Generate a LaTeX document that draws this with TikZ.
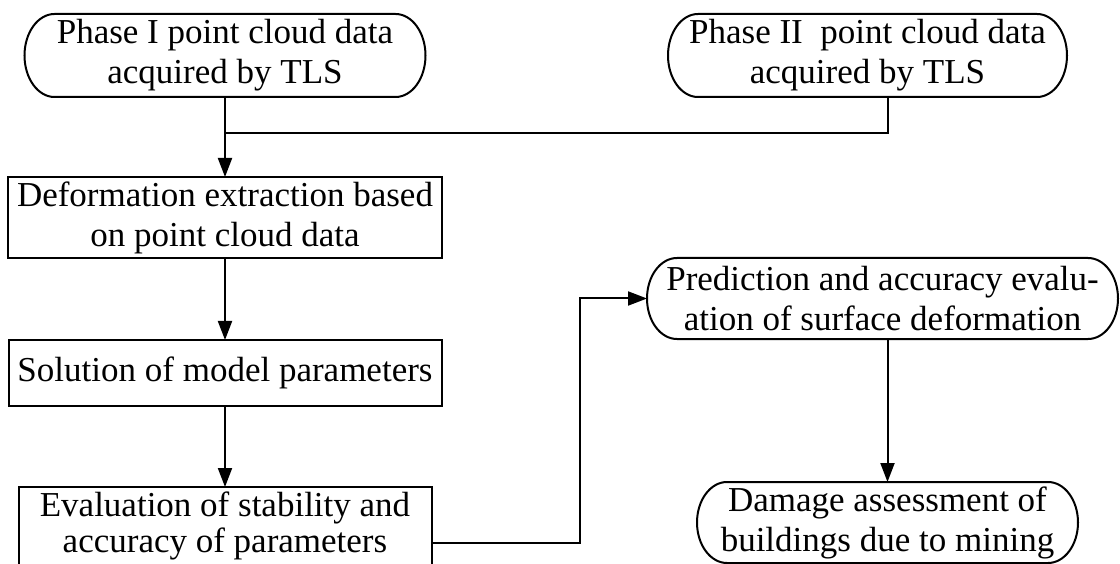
\documentclass[tikz,border=0pt]{standalone}
\usepackage{fontspec}
\setmainfont{Liberation Serif}
\usetikzlibrary{arrows.meta,calc}
\newcommand\termframe[1]{%
  \draw[frameline] let \p1=(#1.north west), \p2=(#1.south east), \n1={(\y1-\y2)/2} in
    (\x1+30pt,\y1) -- (\x2-30pt,\y1)
    arc[start angle=90, end angle=-90, x radius=30pt, y radius=\n1]
    -- (\x1+30pt,\y2)
    arc[start angle=270, end angle=90, x radius=30pt, y radius=\n1] -- cycle;}
\begin{document}
\begin{tikzpicture}[x=1pt,y=1pt,
  every node/.style={font=\fontsize{35}{40}\selectfont, align=center, inner sep=0pt, outer sep=0pt},
  frameline/.style={line width=2pt, black},
  boxnode/.style={draw, line width=2pt, rectangle},
  termnode/.style={rectangle, draw=none},
  conn/.style={line width=2pt, black},
  arr/.style={conn, -{Triangle[length=19pt,width=14pt]}}]
\useasboundingbox (0,0) rectangle (1120,-564);
\clip (0,0) rectangle (1120,-564);
\fill[white] (0,0) rectangle (1120,-564);

\node[termnode, minimum width=401pt, minimum height=83pt] (A) at (225,-55.5) {Phase I point cloud data\\acquired by TLS};
\termframe{A}
\node[termnode, minimum width=399pt, minimum height=83pt] (B) at (867.5,-55.5) {Phase II\ \ point cloud data\\acquired by TLS};
\termframe{B}
\node[boxnode, minimum width=434pt, minimum height=81pt] (C) at (225,-217.5) {Deformation extraction based\\on point cloud data};
\node[boxnode, minimum width=433pt, minimum height=66pt] (D) at (225,-373) {Solution of model parameters};
\node[boxnode, minimum width=413pt, font=\fontsize{35}{36}\selectfont, text height=65pt, text depth=47pt] (E) at (225,-543) {Evaluation of stability and\\accuracy of parameters};
\node[termnode, minimum width=471pt, minimum height=81pt] (F) at (882.5,-298.5) {Prediction and accuracy evalu-\\ation of surface deformation};
\termframe{F}
\node[termnode, minimum width=381pt, minimum height=81pt] (G) at (887.5,-522.5) {Damage assessment of\\buildings due to mining};
\termframe{G}

\coordinate (j) at (225,-133);
\coordinate (bj) at (888,-133);
\draw[conn] (bj |- B.south) -- (bj) -- (j);
\draw[arr] (A.south) -- (C.north);
\draw[arr] (C.south) -- (D.north);
\draw[arr] (D.south) -- (E.north);
\draw[arr] (E.east) -| ([xshift=-67pt]F.west) -- (F.west);
\draw[arr] (F.south -| G.north) -- (G.north);
\end{tikzpicture}
\end{document}
